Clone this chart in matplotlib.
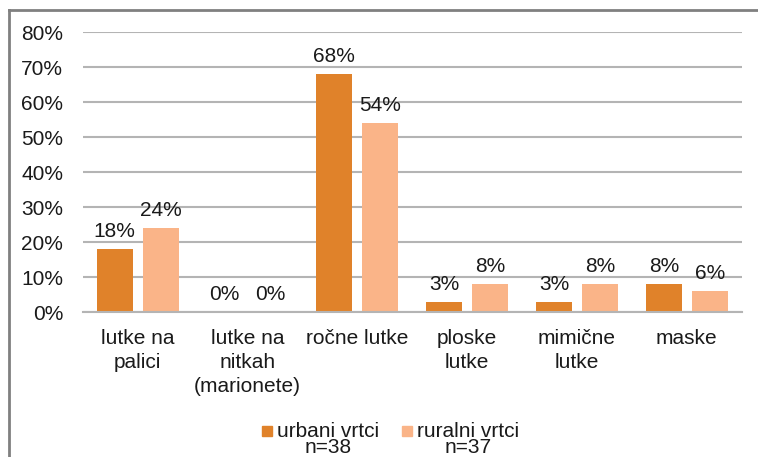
import matplotlib.pyplot as plt
import numpy as np
from matplotlib.patches import Rectangle
from matplotlib.lines import Line2D

# Podatki
kategorije = ['lutke na\npalici', 'lutke na\nnitkah\n(marionete)', 'ročne lutke',
              'ploske\nlutke', 'mimične\nlutke', 'maske']
urbani = [18, 0, 68, 3, 3, 8]
ruralni = [24, 0, 54, 8, 8, 6]
serije = ['urbani vrtci', 'ruralni vrtci']
n_vzorec = ['n=38', 'n=37']
y_ticks = [0, 10, 20, 30, 40, 50, 60, 70, 80]

barve = ['#E0822A', '#FAB488']
tekst = '#1a1a1a'
fs = 15

plt.rcParams['font.family'] = ['Liberation Sans', 'DejaVu Sans']

W, H = 758, 457
fig = plt.figure(figsize=(W / 100, H / 100), dpi=100)

# plot area in pixels: x 82.7..741.7, y 32.3 (80%) .. 312.3 (0%)
ax = fig.add_axes([82.7 / W, 1 - 312.3 / H, 659 / W, 280 / H])

x = np.arange(len(kategorije))
sirina = 0.328
odmik = 0.209
b1 = ax.bar(x - odmik, urbani, sirina, color=barve[0], zorder=2)
b2 = ax.bar(x + odmik, ruralni, sirina, color=barve[1], zorder=2)

for bars, vals in ((b1, urbani), (b2, ruralni)):
    for r, v in zip(bars, vals):
        ax.annotate('%d%%' % v, (r.get_x() + r.get_width() / 2, v),
                    xytext=(0, 8.6), textcoords='offset points',
                    ha='center', va='baseline', fontsize=fs, color=tekst)

ax.set_xlim(-0.5, len(kategorije) - 0.5)
ax.set_ylim(0, 80)
ax.set_yticks(y_ticks)
ax.set_yticklabels(['%d%%' % t for t in y_ticks])
ax.set_xticks(x)
ax.set_xticklabels(kategorije, linespacing=1.32)
ax.tick_params(axis='both', length=0, labelsize=fs, colors=tekst)
ax.tick_params(axis='y', pad=14)
ax.tick_params(axis='x', pad=12)

ax.grid(axis='y', color='#B4B4B4', linewidth=1.5, zorder=0)
ax.set_axisbelow(True)
for s in ['top', 'right', 'left']:
    ax.spines[s].set_visible(False)
ax.spines['bottom'].set_color('#B4B4B4')
ax.spines['bottom'].set_linewidth(1.5)

# zunanji okvir (samo levo in zgoraj vidno)
fig.add_artist(Line2D([8.5 / W, 8.5 / W], [0, 1 - 9.5 / H], color='#808080', lw=2))
fig.add_artist(Line2D([8.5 / W, 1], [1 - 9.5 / H, 1 - 9.5 / H], color='#808080', lw=2))

# legenda
leg_x = [262, 402]
for i in range(2):
    fig.add_artist(Rectangle((leg_x[i] / W, 1 - 436 / H), 10 / W, 10 / H,
                             color=barve[i], transform=fig.transFigure))
    fig.text((leg_x[i] + 15) / W, 1 - 422 / H, serije[i] + '\n' + n_vzorec[i],
             fontsize=fs, va='top', ha='left', multialignment='center',
             linespacing=0.82, color=tekst)

fig.savefig('out.png', dpi=100)
